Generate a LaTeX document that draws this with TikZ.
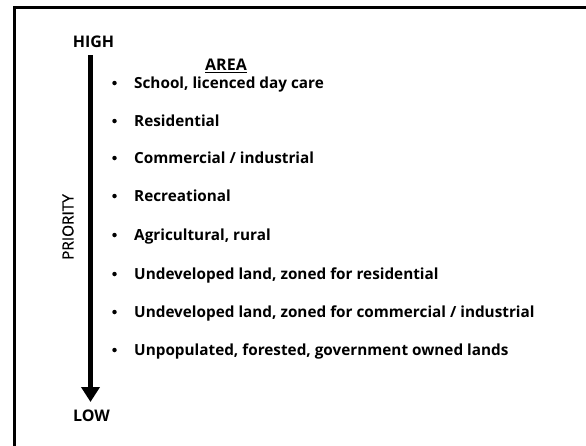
\documentclass[tikz,border=0pt]{standalone}
\usepackage{fontspec}
\setmainfont{Open Sans}
\newfontfamily\axisfont[FakeBold=0.8]{Open Sans}
\usetikzlibrary{arrows.meta}
\begin{document}
\begin{tikzpicture}[x=1pt,y=-1pt,
  label text/.style={font=\bfseries\fontsize{15.3}{17}\selectfont, inner sep=0pt, anchor=base west},
  bulletdot/.style={circle, fill=black, inner sep=0pt, minimum size=4.5pt},
  scale label/.style={font=\bfseries\fontsize{16}{18}\selectfont, inner sep=0pt, anchor=base}]
\useasboundingbox (0,0) rectangle (586,445);
\fill[white] (0,0) rectangle (586,445);
% frame
\draw[line width=3pt] (14,450) -- (14,7.5) -- (592,7.5);
% priority scale
\node[scale label] (high) at (93.5,47) {HIGH};
\node[scale label] (low) at (91.5,421) {LOW};
\coordinate (top) at (90.5,55);
\coordinate (tip) at (90.5,402);
\draw[line width=5pt, -{Triangle[length=15pt,width=18pt]}] (top) -- (tip);
\node[font=\axisfont\fontsize{15.3}{17}\selectfont, rotate=90, inner sep=0pt] (prio) at (68,227) {PRIORITY};
% area heading, underlined
\node[font=\bfseries\fontsize{16}{18}\selectfont, inner sep=0pt, anchor=base] (area) at (226,70) {AREA};
\draw[line width=1pt] ([yshift=-2.8pt]area.base west) -- ([yshift=-2.8pt]area.base east);
% area list
\foreach \y/\t [count=\i] in {88/{School, licenced day care},
  126/{Residential},
  163/{Commercial / industrial},
  201/{Recreational},
  240/{Agricultural, rural},
  279/{Undeveloped land, zoned for residential},
  317/{Undeveloped land, zoned for commercial / industrial},
  355/{Unpopulated, forested, government owned lands}}{
  \node[bulletdot] (b\i) at (114.5,\y-5) {};
  \node[label text] (t\i) at (134,\y) {\t};
}
\end{tikzpicture}
\end{document}
